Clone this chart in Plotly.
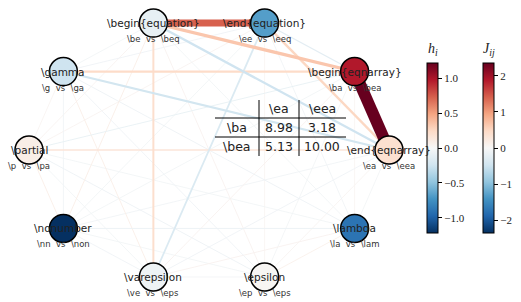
import numpy as np
import plotly.graph_objects as go
from plotly.colors import sample_colorscale

# ---------------- data ----------------
node_labels = [r"\end{eqnarray}", r"\begin{eqnarray}", r"\end{equation}", r"\begin{equation}",
               r"\gamma", r"\partial", r"\nonumber", r"\varepsilon", r"\epsilon", r"\lambda"]
node_sublabels = [r"\ea  vs  \eea", r"\ba  vs  \bea", r"\ee  vs  \eeq", r"\be  vs  \beq",
                  r"\g  vs  \ga", r"\p  vs  \pa", r"\nn  vs  \non", r"\ve  vs  \eps",
                  r"\ep  vs  \eps", r"\la  vs  \lam"]
h_values = [0.20, 0.98, -0.68, -0.10, -0.25, 0.08, -1.22, -0.06, 0.02, -0.90]

edge_src = [0, 0, 0, 0, 0, 0, 0, 0, 0,
            1, 1, 1, 1, 1, 1, 1, 1,
            2, 2, 2, 2, 2, 2, 2,
            3, 3, 3, 3, 3, 3,
            4, 4, 4, 4, 4,
            5, 5, 5, 5,
            6, 6, 6,
            7, 7,
            8]
edge_dst = [1, 2, 3, 4, 5, 6, 7, 8, 9,
            2, 3, 4, 5, 6, 7, 8, 9,
            3, 4, 5, 6, 7, 8, 9,
            4, 5, 6, 7, 8, 9,
            5, 6, 7, 8, 9,
            6, 7, 8, 9,
            7, 8, 9,
            8, 9,
            9]
edge_J = [2.35, 0.50, -0.48, -0.45, 0.30, -0.08, -0.10, 0.05, -0.05,
          -0.25, 0.65, 0.45, -0.18, -0.06, 0.08, -0.05, 0.05,
          1.40, -0.10, 0.06, -0.06, -0.35, 0.05, -0.08,
          -0.06, 0.06, 0.15, 0.40, 0.08, -0.06,
          0.05, -0.08, 0.15, -0.10, -0.12,
          0.15, -0.06, -0.12, -0.06,
          -0.10, -0.06, -0.15,
          -0.05, 0.08,
          0.12]

table_cols = [r"\ea", r"\eea"]
table_rows = [r"\ba", r"\bea"]
table_vals = [[8.98, 3.18], [5.13, 10.00]]

h_lim = 1.22
J_lim = 2.35

# ---------------- styling ----------------
W, H = 521, 302
rdbu_r = ['rgb(5,48,97)', 'rgb(33,102,172)', 'rgb(67,147,195)', 'rgb(146,197,222)',
          'rgb(209,229,240)', 'rgb(247,247,247)', 'rgb(253,219,199)', 'rgb(244,165,130)',
          'rgb(214,96,77)', 'rgb(178,24,43)', 'rgb(103,0,31)']
cscale = [[i / 10, c] for i, c in enumerate(rdbu_r)]

n = len(node_labels)
ang = 2 * np.pi * np.arange(n) / n
nx = np.cos(ang)
ny = np.sin(ang)

fig = go.Figure()

# edges, weakest first
order = np.argsort(np.abs(edge_J))
for k in order:
    i, j, J = edge_src[k], edge_dst[k], edge_J[k]
    t = (J + J_lim) / (2 * J_lim)
    col = sample_colorscale(cscale, [t])[0]
    fig.add_trace(go.Scatter(x=[nx[i], nx[j]], y=[ny[i], ny[j]], mode="lines",
                             line=dict(color=col, width=max(5 * abs(J), 0.9)),
                             hoverinfo="skip", showlegend=False))

cb_common = dict(xanchor="left", xpad=0, ypad=0, y=1 - 148 / H, yanchor="middle",
                 len=170, lenmode="pixels", thickness=11, thicknessmode="pixels",
                 outlinewidth=1, outlinecolor="black", ticks="outside", ticklen=4,
                 tickwidth=1, tickcolor="black",
                 tickfont=dict(family="Liberation Serif", size=11, color="#222"))

def fmt(v, d):
    s = f"{abs(v):.{d}f}"
    return ("\u2212" + s) if v < 0 else s

# nodes
fig.add_trace(go.Scatter(
    x=nx, y=ny, mode="markers", hoverinfo="skip", showlegend=False,
    marker=dict(size=28, color=h_values, colorscale=cscale, cmin=-h_lim, cmax=h_lim,
                line=dict(color="black", width=1.5), showscale=True,
                colorbar=dict(x=427 / W, tickvals=[-1, -0.5, 0, 0.5, 1],
                              ticktext=[fmt(v, 1) for v in [-1, -0.5, 0, 0.5, 1]],
                              **cb_common))))

# J colorbar carrier
fig.add_trace(go.Scatter(
    x=[nx[0]], y=[ny[0]], mode="markers", hoverinfo="skip", showlegend=False,
    marker=dict(size=1, opacity=0, color=[0], colorscale=cscale, cmin=-J_lim, cmax=J_lim,
                showscale=True,
                colorbar=dict(x=483 / W, tickvals=[-2, -1, 0, 1, 2],
                              ticktext=[fmt(v, 0) for v in [-2, -1, 0, 1, 2]],
                              **cb_common))))

ann = []
for i in range(n):
    ann.append(dict(x=nx[i], y=ny[i], xref="x", yref="y", text=node_labels[i],
                    xanchor="center", yanchor="middle",
                    showarrow=False, font=dict(family="DejaVu Sans", size=10.5, color="#222")))
    ann.append(dict(x=nx[i], y=ny[i], xref="x", yref="y", text=node_sublabels[i],
                    xanchor="center", yanchor="middle", showarrow=False, yshift=-16,
                    font=dict(family="DejaVu Sans", size=8.5, color="#333")))

# colorbar titles
ann.append(dict(x=432.5 / W, y=1 - 50 / H, xref="paper", yref="paper", text="<i>h<sub>i</sub></i>",
                xanchor="center", yanchor="middle",
                showarrow=False, font=dict(family="Liberation Serif", size=14, color="#222")))
ann.append(dict(x=489 / W, y=1 - 50 / H, xref="paper", yref="paper", text="<i>J<sub>ij</sub></i>",
                xanchor="center", yanchor="middle",
                showarrow=False, font=dict(family="Liberation Serif", size=14, color="#222")))

# table
col_x = [237, 279, 322]
row_y = [108, 127, 146]
tfont = dict(family="DejaVu Sans", size=12.5, color="#222")
for c, lab in enumerate(table_cols):
    ann.append(dict(x=col_x[c + 1] / W, y=1 - row_y[0] / H, xref="paper", yref="paper",
                    xanchor="center", yanchor="middle",
                    text=lab, showarrow=False, font=tfont))
for r, lab in enumerate(table_rows):
    ann.append(dict(x=col_x[0] / W, y=1 - row_y[r + 1] / H, xref="paper", yref="paper",
                    xanchor="center", yanchor="middle",
                    text=lab, showarrow=False, font=tfont))
    for c in range(len(table_cols)):
        ann.append(dict(x=col_x[c + 1] / W, y=1 - row_y[r + 1] / H, xref="paper", yref="paper",
                        xanchor="center", yanchor="middle",
                        text=f"{table_vals[r][c]:.2f}", showarrow=False, font=tfont))

shapes = []
for yy in [118, 137]:
    shapes.append(dict(type="line", xref="paper", yref="paper", x0=215 / W, x1=346 / W,
                       y0=1 - yy / H, y1=1 - yy / H, line=dict(color="black", width=1)))
for xx in [259, 299]:
    shapes.append(dict(type="line", xref="paper", yref="paper", x0=xx / W, x1=xx / W,
                       y0=1 - 100 / H, y1=1 - 156 / H, line=dict(color="black", width=1)))

cx, cy, rx, ry = 209, 150, 180, 133.5
fig.update_layout(
    width=W, height=H, margin=dict(l=0, r=0, t=0, b=0),
    paper_bgcolor="white", plot_bgcolor="white",
    xaxis=dict(range=[-cx / rx, (W - cx) / rx], visible=False, fixedrange=True),
    yaxis=dict(range=[(cy - H) / ry, cy / ry], visible=False, fixedrange=True),
    annotations=ann, shapes=shapes, showlegend=False,
)

fig.write_html("out.html", config={"displayModeBar": False},
               post_script="document.body.style.margin='0px';document.body.style.overflow='hidden';")
